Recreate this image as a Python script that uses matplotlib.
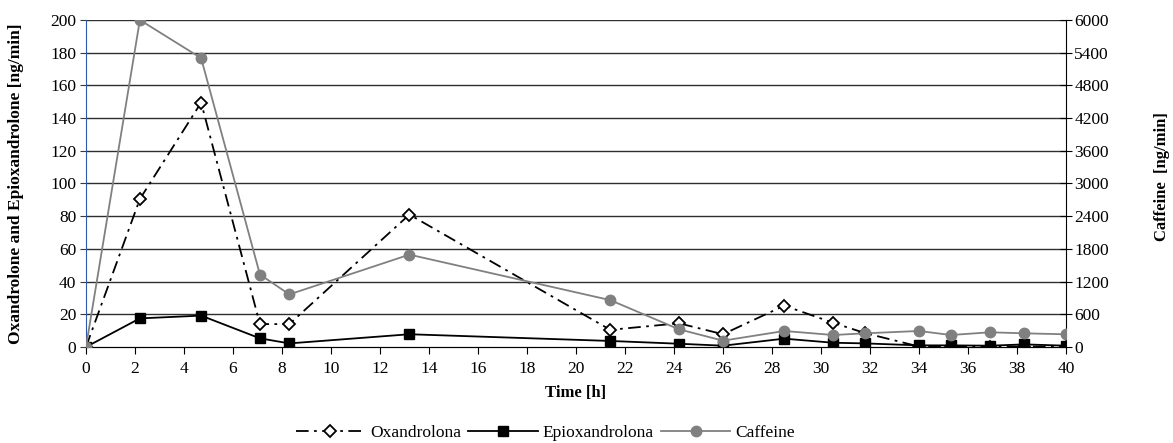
import matplotlib
matplotlib.use("Agg")
from matplotlib import pyplot as plt
import numpy as np

plt.rcParams['font.family'] = ['Liberation Serif', 'DejaVu Serif']

# data
time_h = [0, 2.2, 4.7, 7.1, 8.3, 13.2, 21.4, 24.2, 26.0, 28.5, 30.5, 31.8,
          34.0, 35.3, 36.9, 38.3, 40.0]
oxandrolona = [0, 90.5, 149.5, 14, 14, 81, 10.5, 14.5, 7.8, 25.3, 14.8, 8.5,
               0.3, 0.3, 0.3, 0.3, 0.3]
epioxandrolona = [0, 17.5, 19.2, 5.3, 2.2, 7.8, 3.7, 2.0, 0.8, 5.1, 2.6, 2.2,
                  1.0, 1.0, 0.8, 1.6, 0.8]
caffeine = [0, 6000, 5300, 1330, 965, 1695, 860, 325, 116, 294, 220, 251,
            294, 220, 270, 251, 233]

fig = plt.figure(figsize=(11.73, 4.43), dpi=100)
ax = fig.add_axes([0.0733, 0.2167, 0.8355, 0.7382])
ax2 = ax.twinx()

ax.set_xlim(0, 40)
ax.set_ylim(0, 200)
ax2.set_ylim(0, 6000)

# gridlines
for v in np.arange(20, 201, 20):
    ax.axhline(v, color='#2e2e2e', lw=1.0, zorder=0)

l1, = ax.plot(time_h, oxandrolona, color='black', lw=1.3,
              linestyle=(0, (7, 3, 1.5, 3)), marker='D', markersize=6,
              markerfacecolor='white', markeredgecolor='black',
              markeredgewidth=1.3, label='Oxandrolona', zorder=3)
l2, = ax.plot(time_h, epioxandrolona, color='black', lw=1.3, marker='s',
              markersize=7, label='Epioxandrolona', zorder=3)
l3, = ax2.plot(time_h, caffeine, color='#808080', lw=1.3, marker='o',
               markersize=7.5, label='Caffeine', zorder=3)

ax.set_xticks(np.arange(0, 41, 2))
ax.set_yticks(np.arange(0, 201, 20))
ax2.set_yticks(np.arange(0, 6001, 600))

ax.spines['top'].set_visible(False)
ax2.spines['top'].set_visible(False)
ax2.spines['left'].set_visible(False)
ax.spines['right'].set_visible(False)
ax.spines['left'].set_color('#2b5aa8')
ax.spines['bottom'].set_color('black')
ax2.spines['right'].set_color('black')

ax.tick_params(axis='x', direction='out', length=5, labelsize=12.5, pad=5)
ax.tick_params(axis='y', direction='out', length=4, color='#3a3a3a',
               labelsize=12.5, pad=3)
ax2.tick_params(axis='y', direction='inout', length=8, labelsize=12.5, pad=2)

ax.set_xlabel('Time [h]', fontsize=12, fontweight='bold', labelpad=6)
ax.set_ylabel('Oxandrolone and Epioxandrolone [ng/min]', fontsize=12.5,
              fontweight='bold')
ax.yaxis.set_label_coords(-0.063, 0.5)
ax2.set_ylabel('Caffeine  [ng/min]', fontsize=12, fontweight='bold',
               rotation=90)
ax2.yaxis.set_label_coords(1.09, 0.52)

fig.legend(handles=[l1, l2, l3], loc='lower center', ncol=3, frameon=False,
           fontsize=12.5, handlelength=4.0, columnspacing=0.4,
           handletextpad=0.3, bbox_to_anchor=(0.465, -0.03))

fig.savefig('out.png', dpi=100)
